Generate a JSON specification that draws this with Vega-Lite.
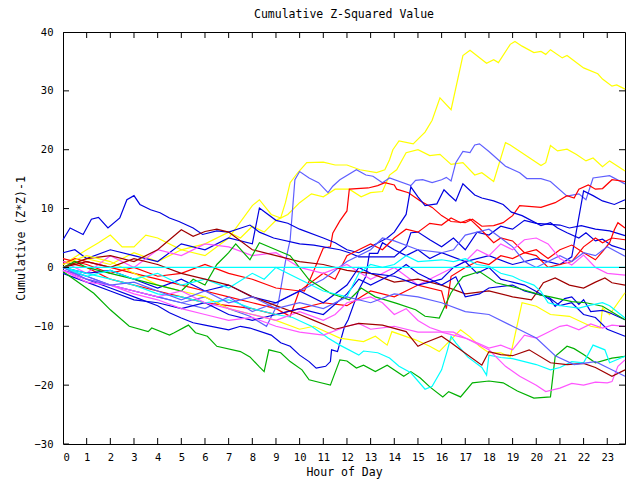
{
"$schema": "https://vega.github.io/schema/vega-lite/v6.json",
"width": 562, "height": 412,
"autosize": {"type": "none"},
"padding": {"left": 63, "top": 32, "right": 15, "bottom": 36},
"background": "white",
"title": {"text": "Cumulative Z-Squared Value", "font": "DejaVu Sans Mono", "fontSize": 11.5, "fontWeight": "normal", "color": "black", "offset": 7, "anchor": "middle"},
"config": {"view": {"stroke": "black", "strokeWidth": 1}, "axis": {"grid": false, "domain": false, "ticks": false, "tickSize": 0, "labelFont": "DejaVu Sans Mono", "labelFontSize": 10.5, "labelColor": "black", "titleFont": "DejaVu Sans Mono", "titleFontSize": 11.5, "titleFontWeight": "normal", "titleColor": "black"}},
"datasets": {
"zero": [{"h":0,"v":0},{"h":23.75,"v":0}],
"xt": [{"h":0},{"h":1},{"h":2},{"h":3},{"h":4},{"h":5},{"h":6},{"h":7},{"h":8},{"h":9},{"h":10},{"h":11},{"h":12},{"h":13},{"h":14},{"h":15},{"h":16},{"h":17},{"h":18},{"h":19},{"h":20},{"h":21},{"h":22},{"h":23}],
"yt": [{"v":-30},{"v":-20},{"v":-10},{"v":0},{"v":10},{"v":20},{"v":30},{"v":40}],
"lines": [
{"s":"A","h":0,"v":0},{"s":"A","h":1,"v":1.5},{"s":"A","h":2,"v":0.5},{"s":"A","h":3,"v":2.5},{"s":"A","h":4,"v":1},{"s":"A","h":5,"v":3},{"s":"A","h":6,"v":2},{"s":"A","h":7,"v":5},{"s":"A","h":8,"v":10.5},{"s":"A","h":8.3,"v":11.5},{"s":"A","h":8.8,"v":9},{"s":"A","h":9.2,"v":8.4},{"s":"A","h":9.4,"v":11},{"s":"A","h":9.6,"v":14.4},{"s":"A","h":9.9,"v":16},{"s":"A","h":10.3,"v":17.8},{"s":"A","h":11,"v":17.9},{"s":"A","h":11.5,"v":17.4},{"s":"A","h":12,"v":17.4},{"s":"A","h":12.55,"v":16.6},{"s":"A","h":13.25,"v":16.1},{"s":"A","h":13.6,"v":16.6},{"s":"A","h":13.8,"v":18.3},{"s":"A","h":13.94,"v":20},{"s":"A","h":14.2,"v":21.5},{"s":"A","h":14.8,"v":21},{"s":"A","h":15.3,"v":23},{"s":"A","h":15.6,"v":25},{"s":"A","h":15.93,"v":28.8},{"s":"A","h":16.4,"v":26.8},{"s":"A","h":16.9,"v":36},{"s":"A","h":17.2,"v":36.9},{"s":"A","h":17.9,"v":34.7},{"s":"A","h":18.2,"v":35.3},{"s":"A","h":18.4,"v":34.8},{"s":"A","h":18.9,"v":37.9},{"s":"A","h":19.1,"v":38.4},{"s":"A","h":19.4,"v":37.6},{"s":"A","h":19.9,"v":36.5},{"s":"A","h":20.2,"v":36.7},{"s":"A","h":20.4,"v":36.2},{"s":"A","h":20.6,"v":37},{"s":"A","h":21.1,"v":35.6},{"s":"A","h":21.3,"v":36},{"s":"A","h":22,"v":33.9},{"s":"A","h":22.6,"v":32.9},{"s":"A","h":22.8,"v":32},{"s":"A","h":23.2,"v":30.8},{"s":"A","h":23.4,"v":31},{"s":"A","h":23.75,"v":30.3},
{"s":"B","h":0,"v":0.5},{"s":"B","h":1,"v":3},{"s":"B","h":1.5,"v":4.2},{"s":"B","h":2,"v":5.5},{"s":"B","h":2.5,"v":3.5},{"s":"B","h":3,"v":3.5},{"s":"B","h":3.5,"v":5.5},{"s":"B","h":4,"v":5},{"s":"B","h":5,"v":3},{"s":"B","h":6,"v":4},{"s":"B","h":7,"v":6},{"s":"B","h":7.5,"v":5},{"s":"B","h":8,"v":7},{"s":"B","h":8.5,"v":6},{"s":"B","h":9,"v":8},{"s":"B","h":9.5,"v":9},{"s":"B","h":10,"v":11},{"s":"B","h":10.5,"v":12.5},{"s":"B","h":11,"v":12},{"s":"B","h":11.5,"v":13.3},{"s":"B","h":12.1,"v":13.3},{"s":"B","h":12.6,"v":12},{"s":"B","h":13,"v":12.7},{"s":"B","h":13.5,"v":12.9},{"s":"B","h":13.8,"v":15.7},{"s":"B","h":14.1,"v":16.6},{"s":"B","h":14.5,"v":19.5},{"s":"B","h":15,"v":20},{"s":"B","h":15.5,"v":19},{"s":"B","h":15.93,"v":19.2},{"s":"B","h":16.4,"v":17.5},{"s":"B","h":16.9,"v":17.8},{"s":"B","h":17.4,"v":15.7},{"s":"B","h":17.7,"v":16.1},{"s":"B","h":18.2,"v":14.6},{"s":"B","h":18.7,"v":21.2},{"s":"B","h":18.9,"v":20.8},{"s":"B","h":20.2,"v":17.3},{"s":"B","h":20.4,"v":17.8},{"s":"B","h":20.6,"v":20.7},{"s":"B","h":20.9,"v":19.8},{"s":"B","h":21.3,"v":20.1},{"s":"B","h":21.7,"v":19.2},{"s":"B","h":22.1,"v":18.1},{"s":"B","h":22.4,"v":18.6},{"s":"B","h":22.8,"v":17.1},{"s":"B","h":23.1,"v":18.1},{"s":"B","h":23.75,"v":16.4},
{"s":"C","h":0,"v":-0.5},{"s":"C","h":1,"v":-1.5},{"s":"C","h":2,"v":-3},{"s":"C","h":3,"v":-4},{"s":"C","h":4,"v":-5},{"s":"C","h":5,"v":-6},{"s":"C","h":6,"v":-5},{"s":"C","h":7,"v":-7},{"s":"C","h":7.9,"v":-8.3},{"s":"C","h":8.6,"v":-10},{"s":"C","h":9.1,"v":-6},{"s":"C","h":9.4,"v":1},{"s":"C","h":9.6,"v":4.7},{"s":"C","h":9.8,"v":14.9},{"s":"C","h":10,"v":16.3},{"s":"C","h":10.4,"v":15.2},{"s":"C","h":10.8,"v":14.4},{"s":"C","h":11.2,"v":12.7},{"s":"C","h":11.4,"v":13.8},{"s":"C","h":11.7,"v":14.9},{"s":"C","h":12.4,"v":16.6},{"s":"C","h":12.8,"v":15.7},{"s":"C","h":13.1,"v":15.5},{"s":"C","h":13.5,"v":14.4},{"s":"C","h":13.8,"v":15.2},{"s":"C","h":14.7,"v":13.9},{"s":"C","h":14.9,"v":14.8},{"s":"C","h":15.2,"v":14.9},{"s":"C","h":15.6,"v":14.4},{"s":"C","h":16,"v":14.9},{"s":"C","h":16.2,"v":15.3},{"s":"C","h":16.4,"v":14.7},{"s":"C","h":16.6,"v":17.8},{"s":"C","h":16.9,"v":19.7},{"s":"C","h":17.2,"v":19.5},{"s":"C","h":17.4,"v":20.8},{"s":"C","h":17.6,"v":21},{"s":"C","h":18,"v":19.7},{"s":"C","h":18.7,"v":17.2},{"s":"C","h":19.3,"v":16.1},{"s":"C","h":19.6,"v":15.1},{"s":"C","h":20.2,"v":15.1},{"s":"C","h":20.6,"v":14.6},{"s":"C","h":21.3,"v":12.1},{"s":"C","h":21.8,"v":12.5},{"s":"C","h":22.1,"v":11.5},{"s":"C","h":22.4,"v":15.2},{"s":"C","h":23.1,"v":15.6},{"s":"C","h":23.75,"v":14.2},
{"s":"D","h":0,"v":0.5},{"s":"D","h":0.5,"v":1.5},{"s":"D","h":1,"v":1},{"s":"D","h":2,"v":0},{"s":"D","h":3,"v":-1},{"s":"D","h":4,"v":-2},{"s":"D","h":5,"v":-3},{"s":"D","h":6,"v":-4},{"s":"D","h":7,"v":-5},{"s":"D","h":8,"v":-6},{"s":"D","h":9,"v":-7},{"s":"D","h":9.6,"v":-8.3},{"s":"D","h":10,"v":-3.8},{"s":"D","h":10.2,"v":-4},{"s":"D","h":10.5,"v":-1.5},{"s":"D","h":11,"v":3.3},{"s":"D","h":11.3,"v":3.5},{"s":"D","h":11.4,"v":5.8},{"s":"D","h":11.7,"v":7.9},{"s":"D","h":12,"v":9.6},{"s":"D","h":12.1,"v":13.3},{"s":"D","h":12.9,"v":13.5},{"s":"D","h":13.3,"v":13.9},{"s":"D","h":13.6,"v":14.4},{"s":"D","h":14,"v":14},{"s":"D","h":14.1,"v":13.3},{"s":"D","h":14.6,"v":12.7},{"s":"D","h":15.1,"v":11.3},{"s":"D","h":15.6,"v":10.2},{"s":"D","h":16,"v":8.8},{"s":"D","h":16.4,"v":7.8},{"s":"D","h":17,"v":7.6},{"s":"D","h":17.3,"v":8.2},{"s":"D","h":17.7,"v":7},{"s":"D","h":18.2,"v":7.1},{"s":"D","h":18.6,"v":7.6},{"s":"D","h":19,"v":8.8},{"s":"D","h":19.3,"v":10.5},{"s":"D","h":20.2,"v":10.2},{"s":"D","h":20.8,"v":11},{"s":"D","h":21.3,"v":12.2},{"s":"D","h":21.6,"v":11.8},{"s":"D","h":21.8,"v":13.3},{"s":"D","h":22.2,"v":14},{"s":"D","h":22.5,"v":13.3},{"s":"D","h":22.8,"v":13.4},{"s":"D","h":23.2,"v":14.9},{"s":"D","h":23.75,"v":14.6},
{"s":"E","h":0,"v":2.5},{"s":"E","h":0.5,"v":3},{"s":"E","h":1,"v":1.5},{"s":"E","h":2,"v":3},{"s":"E","h":3,"v":2},{"s":"E","h":4,"v":1},{"s":"E","h":5,"v":4},{"s":"E","h":6,"v":3},{"s":"E","h":7,"v":5},{"s":"E","h":8,"v":4},{"s":"E","h":8.3,"v":10.1},{"s":"E","h":9,"v":8},{"s":"E","h":9.5,"v":7.5},{"s":"E","h":10,"v":6.5},{"s":"E","h":11,"v":5},{"s":"E","h":11.5,"v":4.2},{"s":"E","h":12,"v":3},{"s":"E","h":12.5,"v":2.5},{"s":"E","h":13,"v":3.5},{"s":"E","h":13.7,"v":5},{"s":"E","h":14,"v":6},{"s":"E","h":14.5,"v":9},{"s":"E","h":14.7,"v":13.7},{"s":"E","h":15,"v":12},{"s":"E","h":15.3,"v":10.5},{"s":"E","h":15.8,"v":10.8},{"s":"E","h":16.1,"v":13.2},{"s":"E","h":16.3,"v":12.4},{"s":"E","h":16.6,"v":11.3},{"s":"E","h":16.9,"v":14.2},{"s":"E","h":17.4,"v":12.3},{"s":"E","h":17.7,"v":11.8},{"s":"E","h":18.2,"v":11.3},{"s":"E","h":18.6,"v":10.7},{"s":"E","h":18.95,"v":9.4},{"s":"E","h":19.4,"v":8.8},{"s":"E","h":20.2,"v":7.1},{"s":"E","h":20.6,"v":7.6},{"s":"E","h":20.9,"v":6.7},{"s":"E","h":21.3,"v":5.9},{"s":"E","h":21.8,"v":5},{"s":"E","h":22.1,"v":5.9},{"s":"E","h":22.5,"v":4.5},{"s":"E","h":22.8,"v":4.8},{"s":"E","h":23.2,"v":3.7},{"s":"E","h":23.75,"v":3},
{"s":"F","h":0,"v":-0.5},{"s":"F","h":1,"v":-2},{"s":"F","h":2,"v":-3.5},{"s":"F","h":3,"v":-5},{"s":"F","h":4,"v":-6.5},{"s":"F","h":4.5,"v":-7.7},{"s":"F","h":5,"v":-8.6},{"s":"F","h":5.5,"v":-9.4},{"s":"F","h":6,"v":-9.8},{"s":"F","h":7,"v":-10.6},{"s":"F","h":7.5,"v":-10},{"s":"F","h":7.9,"v":-10.3},{"s":"F","h":8.8,"v":-11.5},{"s":"F","h":9.2,"v":-12.8},{"s":"F","h":9.6,"v":-13.4},{"s":"F","h":10,"v":-14.9},{"s":"F","h":10.4,"v":-16},{"s":"F","h":10.7,"v":-17.1},{"s":"F","h":11.1,"v":-16.8},{"s":"F","h":11.3,"v":-16},{"s":"F","h":11.35,"v":-14},{"s":"F","h":11.6,"v":-14.3},{"s":"F","h":11.9,"v":-10},{"s":"F","h":12.05,"v":-8.9},{"s":"F","h":12.4,"v":-5},{"s":"F","h":12.5,"v":-3.8},{"s":"F","h":12.8,"v":-1.5},{"s":"F","h":12.95,"v":2.4},{"s":"F","h":13.3,"v":2.4},{"s":"F","h":13.5,"v":4.2},{"s":"F","h":14,"v":3},{"s":"F","h":14.5,"v":2},{"s":"F","h":15,"v":3},{"s":"F","h":15.5,"v":1.5},{"s":"F","h":16,"v":2.5},{"s":"F","h":17,"v":1},{"s":"F","h":18,"v":2},{"s":"F","h":19,"v":0.5},{"s":"F","h":20,"v":1.5},{"s":"F","h":21,"v":0.5},{"s":"F","h":21.5,"v":1.8},{"s":"F","h":22,"v":13},{"s":"F","h":22.4,"v":12.2},{"s":"F","h":22.8,"v":11.3},{"s":"F","h":23.3,"v":10.7},{"s":"F","h":23.75,"v":11.5},
{"s":"G","h":0,"v":4.7},{"s":"G","h":0.3,"v":6.7},{"s":"G","h":0.85,"v":5.6},{"s":"G","h":1.2,"v":8.2},{"s":"G","h":1.5,"v":8.5},{"s":"G","h":1.9,"v":6.7},{"s":"G","h":2.4,"v":8.4},{"s":"G","h":2.7,"v":11.5},{"s":"G","h":3,"v":12.2},{"s":"G","h":3.25,"v":10.7},{"s":"G","h":3.7,"v":9.8},{"s":"G","h":4.1,"v":9.3},{"s":"G","h":4.5,"v":8.4},{"s":"G","h":4.9,"v":7.8},{"s":"G","h":5.5,"v":6.7},{"s":"G","h":5.9,"v":5.6},{"s":"G","h":6.5,"v":6.2},{"s":"G","h":7,"v":6},{"s":"G","h":7.9,"v":7.2},{"s":"G","h":8.3,"v":6},{"s":"G","h":8.9,"v":5},{"s":"G","h":10,"v":4},{"s":"G","h":10.6,"v":3.8},{"s":"G","h":11.7,"v":3},{"s":"G","h":12.1,"v":2.5},{"s":"G","h":12.5,"v":1.8},{"s":"G","h":13.2,"v":1.8},{"s":"G","h":14,"v":1.8},{"s":"G","h":14.5,"v":3.5},{"s":"G","h":14.7,"v":5.9},{"s":"G","h":15,"v":6},{"s":"G","h":15.5,"v":4.7},{"s":"G","h":16,"v":3.5},{"s":"G","h":16.5,"v":5},{"s":"G","h":17,"v":3},{"s":"G","h":17.5,"v":6},{"s":"G","h":18,"v":5.5},{"s":"G","h":18.5,"v":7},{"s":"G","h":19,"v":6.5},{"s":"G","h":19.5,"v":8},{"s":"G","h":20,"v":7.5},{"s":"G","h":21,"v":7.2},{"s":"G","h":21.4,"v":6.7},{"s":"G","h":21.9,"v":7.1},{"s":"G","h":22.5,"v":6.5},{"s":"G","h":23.1,"v":6.2},{"s":"G","h":23.75,"v":5.4},
{"s":"H","h":0,"v":1.5},{"s":"H","h":1,"v":0.5},{"s":"H","h":2,"v":-1},{"s":"H","h":3,"v":0},{"s":"H","h":4,"v":-1.5},{"s":"H","h":5,"v":-1},{"s":"H","h":6,"v":0.5},{"s":"H","h":7,"v":-1},{"s":"H","h":8,"v":-2},{"s":"H","h":9,"v":-3.5},{"s":"H","h":10,"v":-4},{"s":"H","h":11,"v":-1},{"s":"H","h":11.5,"v":-2},{"s":"H","h":12,"v":2},{"s":"H","h":12.5,"v":3},{"s":"H","h":13,"v":4},{"s":"H","h":13.5,"v":3},{"s":"H","h":14,"v":5},{"s":"H","h":14.5,"v":6.5},{"s":"H","h":15,"v":6},{"s":"H","h":15.5,"v":7.5},{"s":"H","h":16,"v":7.2},{"s":"H","h":16.4,"v":8.4},{"s":"H","h":16.8,"v":7.6},{"s":"H","h":17.2,"v":8.2},{"s":"H","h":17.6,"v":6.7},{"s":"H","h":18.2,"v":4.2},{"s":"H","h":18.5,"v":5},{"s":"H","h":19,"v":4.5},{"s":"H","h":19.5,"v":2.5},{"s":"H","h":20,"v":3},{"s":"H","h":20.5,"v":1.5},{"s":"H","h":21,"v":3},{"s":"H","h":21.5,"v":3.8},{"s":"H","h":22,"v":2.5},{"s":"H","h":22.5,"v":1.3},{"s":"H","h":22.8,"v":2.7},{"s":"H","h":23.1,"v":4.2},{"s":"H","h":23.3,"v":6.4},{"s":"H","h":23.45,"v":7.6},{"s":"H","h":23.75,"v":6.7},
{"s":"I","h":0,"v":1},{"s":"I","h":1,"v":0},{"s":"I","h":2,"v":-2},{"s":"I","h":3,"v":-3},{"s":"I","h":4,"v":-4},{"s":"I","h":5,"v":-5},{"s":"I","h":6,"v":-6},{"s":"I","h":7,"v":-6.5},{"s":"I","h":8,"v":-7},{"s":"I","h":9,"v":-8},{"s":"I","h":10,"v":-7},{"s":"I","h":11,"v":-6},{"s":"I","h":12,"v":-6.5},{"s":"I","h":13,"v":-4},{"s":"I","h":14,"v":-5},{"s":"I","h":15,"v":-3},{"s":"I","h":16,"v":-4},{"s":"I","h":16.2,"v":-7},{"s":"I","h":16.4,"v":-1.5},{"s":"I","h":17,"v":0},{"s":"I","h":17.5,"v":1},{"s":"I","h":18,"v":0.5},{"s":"I","h":18.5,"v":2},{"s":"I","h":19,"v":1.5},{"s":"I","h":19.5,"v":2.5},{"s":"I","h":20,"v":2},{"s":"I","h":20.5,"v":0},{"s":"I","h":21,"v":0.5},{"s":"I","h":21.5,"v":1},{"s":"I","h":22,"v":3.5},{"s":"I","h":22.5,"v":5},{"s":"I","h":22.8,"v":4.2},{"s":"I","h":23.2,"v":5},{"s":"I","h":23.75,"v":4.7},
{"s":"J","h":0,"v":0},{"s":"J","h":1,"v":-1.5},{"s":"J","h":2,"v":-3},{"s":"J","h":3,"v":-4},{"s":"J","h":4,"v":-5},{"s":"J","h":5,"v":-6},{"s":"J","h":6,"v":-7},{"s":"J","h":7,"v":-5},{"s":"J","h":8,"v":-7.5},{"s":"J","h":9,"v":-6},{"s":"J","h":10,"v":-4},{"s":"J","h":11,"v":-2},{"s":"J","h":12,"v":1},{"s":"J","h":13,"v":3},{"s":"J","h":13.5,"v":5},{"s":"J","h":14,"v":4.5},{"s":"J","h":15,"v":3},{"s":"J","h":16,"v":2.5},{"s":"J","h":16.5,"v":3},{"s":"J","h":17,"v":5.5},{"s":"J","h":17.5,"v":6},{"s":"J","h":18,"v":6.5},{"s":"J","h":18.5,"v":5},{"s":"J","h":19,"v":3.5},{"s":"J","h":19.5,"v":1},{"s":"J","h":20,"v":0},{"s":"J","h":20.5,"v":1},{"s":"J","h":21,"v":2},{"s":"J","h":21.5,"v":1},{"s":"J","h":22,"v":2.5},{"s":"J","h":22.5,"v":2},{"s":"J","h":23,"v":3.5},{"s":"J","h":23.75,"v":1.9},
{"s":"K","h":0,"v":1},{"s":"K","h":1,"v":-1},{"s":"K","h":2,"v":2},{"s":"K","h":3,"v":0},{"s":"K","h":4,"v":3},{"s":"K","h":5,"v":2},{"s":"K","h":6,"v":4},{"s":"K","h":7,"v":3.5},{"s":"K","h":8,"v":2},{"s":"K","h":9,"v":2.5},{"s":"K","h":10,"v":0},{"s":"K","h":11,"v":-1},{"s":"K","h":12,"v":0.5},{"s":"K","h":13,"v":-2},{"s":"K","h":14,"v":0},{"s":"K","h":15,"v":-3},{"s":"K","h":16,"v":-1},{"s":"K","h":17,"v":1},{"s":"K","h":17.5,"v":3},{"s":"K","h":18,"v":2},{"s":"K","h":18.5,"v":4},{"s":"K","h":19,"v":3},{"s":"K","h":19.5,"v":4.7},{"s":"K","h":20,"v":5},{"s":"K","h":20.5,"v":4},{"s":"K","h":21,"v":1.5},{"s":"K","h":21.5,"v":0.4},{"s":"K","h":22,"v":2.1},{"s":"K","h":22.5,"v":0},{"s":"K","h":23,"v":-1},{"s":"K","h":23.75,"v":-1.3},
{"s":"L","h":0,"v":0},{"s":"L","h":1,"v":1.5},{"s":"L","h":2,"v":2},{"s":"L","h":3,"v":1},{"s":"L","h":4,"v":3},{"s":"L","h":4.5,"v":4.7},{"s":"L","h":5,"v":6.4},{"s":"L","h":5.5,"v":5.3},{"s":"L","h":6,"v":6.1},{"s":"L","h":6.5,"v":6.5},{"s":"L","h":7,"v":6},{"s":"L","h":8,"v":3},{"s":"L","h":9,"v":2},{"s":"L","h":10,"v":1},{"s":"L","h":11,"v":0.5},{"s":"L","h":12,"v":-0.5},{"s":"L","h":13,"v":-1},{"s":"L","h":14,"v":-2.5},{"s":"L","h":15,"v":-2},{"s":"L","h":16,"v":-3},{"s":"L","h":17,"v":-4.5},{"s":"L","h":18,"v":-4},{"s":"L","h":19,"v":-5},{"s":"L","h":19.8,"v":-5.5},{"s":"L","h":20.1,"v":-3.8},{"s":"L","h":20.3,"v":-2.6},{"s":"L","h":20.8,"v":-1.8},{"s":"L","h":21.4,"v":-3},{"s":"L","h":22,"v":-3.5},{"s":"L","h":22.5,"v":-2.5},{"s":"L","h":22.9,"v":-1.8},{"s":"L","h":23.2,"v":-2.6},{"s":"L","h":23.75,"v":-3},
{"s":"M","h":0,"v":0.5},{"s":"M","h":1,"v":2},{"s":"M","h":2,"v":1},{"s":"M","h":3,"v":-1},{"s":"M","h":4,"v":-3},{"s":"M","h":5,"v":-4},{"s":"M","h":6,"v":-5},{"s":"M","h":7,"v":-7},{"s":"M","h":8,"v":-8},{"s":"M","h":9,"v":-9},{"s":"M","h":10,"v":-10.5},{"s":"M","h":10.6,"v":-10},{"s":"M","h":11.7,"v":-12},{"s":"M","h":12.7,"v":-12.6},{"s":"M","h":13.2,"v":-11.7},{"s":"M","h":13.7,"v":-13.2},{"s":"M","h":13.9,"v":-10.9},{"s":"M","h":14.9,"v":-12.3},{"s":"M","h":15.5,"v":-13.4},{"s":"M","h":15.9,"v":-14.3},{"s":"M","h":16.8,"v":-10.6},{"s":"M","h":17.2,"v":-11.8},{"s":"M","h":17.6,"v":-13.4},{"s":"M","h":18,"v":-14.5},{"s":"M","h":18.5,"v":-14.5},{"s":"M","h":18.9,"v":-15.2},{"s":"M","h":19.4,"v":-6},{"s":"M","h":20,"v":-6.6},{"s":"M","h":20.6,"v":-8},{"s":"M","h":21.4,"v":-8.3},{"s":"M","h":22.3,"v":-10},{"s":"M","h":22.7,"v":-10.3},{"s":"M","h":22.8,"v":-6.9},{"s":"M","h":23.1,"v":-8},{"s":"M","h":23.75,"v":-4.3},
{"s":"N","h":0,"v":0},{"s":"N","h":1,"v":-1},{"s":"N","h":2,"v":-0.5},{"s":"N","h":3,"v":-2},{"s":"N","h":4,"v":-3.5},{"s":"N","h":5,"v":-2},{"s":"N","h":6,"v":-4},{"s":"N","h":7,"v":-3},{"s":"N","h":8,"v":-5},{"s":"N","h":9,"v":-6},{"s":"N","h":10,"v":-4},{"s":"N","h":11,"v":-6},{"s":"N","h":12,"v":-3},{"s":"N","h":12.5,"v":0},{"s":"N","h":13,"v":-1},{"s":"N","h":14,"v":-1.5},{"s":"N","h":15,"v":-3},{"s":"N","h":16,"v":-2},{"s":"N","h":16.5,"v":0},{"s":"N","h":17,"v":1},{"s":"N","h":17.5,"v":-1},{"s":"N","h":18,"v":0},{"s":"N","h":18.5,"v":-2},{"s":"N","h":19,"v":-2.5},{"s":"N","h":19.5,"v":-3},{"s":"N","h":20,"v":-4.1},{"s":"N","h":20.6,"v":-5.5},{"s":"N","h":20.8,"v":-6.6},{"s":"N","h":21.2,"v":-5.3},{"s":"N","h":21.5,"v":-5},{"s":"N","h":21.8,"v":-6.3},{"s":"N","h":22,"v":-5.5},{"s":"N","h":22.3,"v":-7.5},{"s":"N","h":22.8,"v":-7.3},{"s":"N","h":23.1,"v":-7.7},{"s":"N","h":23.75,"v":-8.9},
{"s":"O","h":0,"v":-1},{"s":"O","h":1,"v":-2.5},{"s":"O","h":2,"v":-4},{"s":"O","h":3,"v":-5.5},{"s":"O","h":4,"v":-6},{"s":"O","h":5,"v":-7},{"s":"O","h":6,"v":-6},{"s":"O","h":7,"v":-8},{"s":"O","h":8,"v":-9},{"s":"O","h":9,"v":-8},{"s":"O","h":10,"v":-7},{"s":"O","h":11,"v":-8},{"s":"O","h":12,"v":-4.5},{"s":"O","h":12.5,"v":-2},{"s":"O","h":13,"v":-3},{"s":"O","h":14,"v":-1},{"s":"O","h":14.5,"v":0.5},{"s":"O","h":15,"v":-1},{"s":"O","h":16,"v":-3},{"s":"O","h":16.6,"v":-1.6},{"s":"O","h":17,"v":-5},{"s":"O","h":17.6,"v":-4.5},{"s":"O","h":18,"v":-3.5},{"s":"O","h":19,"v":-3},{"s":"O","h":19.5,"v":-4},{"s":"O","h":20,"v":-4.5},{"s":"O","h":20.5,"v":-5},{"s":"O","h":21,"v":-6.5},{"s":"O","h":21.5,"v":-6},{"s":"O","h":22,"v":-8},{"s":"O","h":22.5,"v":-8.5},{"s":"O","h":23,"v":-10.5},{"s":"O","h":23.75,"v":-11.7},
{"s":"P","h":0,"v":0},{"s":"P","h":0.5,"v":1},{"s":"P","h":1,"v":0},{"s":"P","h":2,"v":-1},{"s":"P","h":3,"v":-2},{"s":"P","h":4,"v":-3},{"s":"P","h":5,"v":-4},{"s":"P","h":5.5,"v":-2},{"s":"P","h":6,"v":-3},{"s":"P","h":6.5,"v":0.5},{"s":"P","h":7,"v":2.5},{"s":"P","h":7.3,"v":4},{"s":"P","h":7.9,"v":1.3},{"s":"P","h":8.3,"v":4.2},{"s":"P","h":9.3,"v":2.5},{"s":"P","h":9.6,"v":2},{"s":"P","h":10.4,"v":-2.1},{"s":"P","h":11.3,"v":-4.4},{"s":"P","h":12.1,"v":-5.5},{"s":"P","h":12.6,"v":-3.5},{"s":"P","h":13.2,"v":-5},{"s":"P","h":14.1,"v":-6.1},{"s":"P","h":14.9,"v":-7.2},{"s":"P","h":15.3,"v":-8.3},{"s":"P","h":15.9,"v":-8.6},{"s":"P","h":16.4,"v":-4.3},{"s":"P","h":16.7,"v":-2.6},{"s":"P","h":16.9,"v":-1.6},{"s":"P","h":17.6,"v":-0.7},{"s":"P","h":18.3,"v":-2.6},{"s":"P","h":19.2,"v":-3.5},{"s":"P","h":20.2,"v":-4.7},{"s":"P","h":20.6,"v":-5},{"s":"P","h":21.5,"v":-5.8},{"s":"P","h":22.1,"v":-6},{"s":"P","h":22.8,"v":-6.6},{"s":"P","h":23.75,"v":-8.9},
{"s":"Q","h":0,"v":-0.7},{"s":"Q","h":1.3,"v":-4.4},{"s":"Q","h":2,"v":-7.2},{"s":"Q","h":2.8,"v":-10},{"s":"Q","h":3.6,"v":-10.9},{"s":"Q","h":3.75,"v":-10.3},{"s":"Q","h":4.5,"v":-11.5},{"s":"Q","h":4.7,"v":-11.1},{"s":"Q","h":5.3,"v":-9.8},{"s":"Q","h":5.6,"v":-11.1},{"s":"Q","h":6.1,"v":-11.7},{"s":"Q","h":6.5,"v":-13.4},{"s":"Q","h":7.5,"v":-14.3},{"s":"Q","h":7.9,"v":-15.2},{"s":"Q","h":8.3,"v":-16.9},{"s":"Q","h":8.5,"v":-17.7},{"s":"Q","h":8.7,"v":-14},{"s":"Q","h":9.2,"v":-14.5},{"s":"Q","h":9.6,"v":-16},{"s":"Q","h":10.1,"v":-17.4},{"s":"Q","h":10.4,"v":-19.1},{"s":"Q","h":10.9,"v":-19.6},{"s":"Q","h":11.3,"v":-20},{"s":"Q","h":11.7,"v":-15.7},{"s":"Q","h":12,"v":-15.9},{"s":"Q","h":12.4,"v":-17.1},{"s":"Q","h":12.7,"v":-16.6},{"s":"Q","h":13.2,"v":-17.7},{"s":"Q","h":13.7,"v":-16.6},{"s":"Q","h":14.4,"v":-18.5},{"s":"Q","h":14.7,"v":-17.7},{"s":"Q","h":15.1,"v":-18.8},{"s":"Q","h":15.5,"v":-20.3},{"s":"Q","h":16.05,"v":-22},{"s":"Q","h":16.3,"v":-21.1},{"s":"Q","h":16.8,"v":-22},{"s":"Q","h":17.3,"v":-19.6},{"s":"Q","h":18,"v":-19.3},{"s":"Q","h":18.6,"v":-19.6},{"s":"Q","h":19.2,"v":-21},{"s":"Q","h":19.9,"v":-22.2},{"s":"Q","h":20.6,"v":-22},{"s":"Q","h":20.8,"v":-15.1},{"s":"Q","h":21.3,"v":-13.4},{"s":"Q","h":21.6,"v":-13.8},{"s":"Q","h":22,"v":-14.8},{"s":"Q","h":22.5,"v":-16.2},{"s":"Q","h":23.2,"v":-15.4},{"s":"Q","h":23.75,"v":-15.1},
{"s":"R","h":0,"v":0},{"s":"R","h":1,"v":-1.5},{"s":"R","h":2,"v":-0.5},{"s":"R","h":3,"v":-2},{"s":"R","h":4,"v":-1},{"s":"R","h":5,"v":-3},{"s":"R","h":6,"v":-2},{"s":"R","h":7,"v":-3.5},{"s":"R","h":8,"v":-1},{"s":"R","h":8.5,"v":-2},{"s":"R","h":9,"v":0},{"s":"R","h":10,"v":-2},{"s":"R","h":11,"v":-4},{"s":"R","h":12,"v":-5},{"s":"R","h":12.5,"v":-1},{"s":"R","h":13,"v":0.5},{"s":"R","h":13.5,"v":0},{"s":"R","h":14,"v":0.5},{"s":"R","h":14.5,"v":2},{"s":"R","h":15,"v":1},{"s":"R","h":16,"v":1.3},{"s":"R","h":16.5,"v":1},{"s":"R","h":17,"v":1.5},{"s":"R","h":17.5,"v":0.5},{"s":"R","h":18,"v":0.2},{"s":"R","h":18.5,"v":-1},{"s":"R","h":19,"v":-1.5},{"s":"R","h":19.3,"v":-2.1},{"s":"R","h":19.9,"v":-3},{"s":"R","h":20.2,"v":-4.1},{"s":"R","h":20.5,"v":-6},{"s":"R","h":20.9,"v":-6.4},{"s":"R","h":21.2,"v":-6.6},{"s":"R","h":21.8,"v":-6.9},{"s":"R","h":22.2,"v":-6.5},{"s":"R","h":22.8,"v":-6},{"s":"R","h":23.1,"v":-6.5},{"s":"R","h":23.75,"v":-8.6},
{"s":"S","h":0,"v":0},{"s":"S","h":1,"v":-1},{"s":"S","h":2,"v":-2},{"s":"S","h":3,"v":-3},{"s":"S","h":4,"v":-4.5},{"s":"S","h":5,"v":-5},{"s":"S","h":6,"v":-6},{"s":"S","h":7,"v":-5.5},{"s":"S","h":8,"v":-7},{"s":"S","h":9,"v":-8},{"s":"S","h":9.7,"v":-8.5},{"s":"S","h":10.5,"v":-10},{"s":"S","h":11.2,"v":-12},{"s":"S","h":11.7,"v":-13.2},{"s":"S","h":12.5,"v":-14.9},{"s":"S","h":12.7,"v":-14.2},{"s":"S","h":13.3,"v":-14.5},{"s":"S","h":13.8,"v":-15.4},{"s":"S","h":14.2,"v":-16.8},{"s":"S","h":14.7,"v":-17.9},{"s":"S","h":15.3,"v":-20.7},{"s":"S","h":15.6,"v":-20.2},{"s":"S","h":16,"v":-17.4},{"s":"S","h":16.25,"v":-14},{"s":"S","h":16.4,"v":-11.7},{"s":"S","h":16.6,"v":-12.8},{"s":"S","h":17.1,"v":-15.2},{"s":"S","h":17.7,"v":-17},{"s":"S","h":17.9,"v":-18.3},{"s":"S","h":18,"v":-14.9},{"s":"S","h":18.5,"v":-15.3},{"s":"S","h":19,"v":-15.5},{"s":"S","h":19.5,"v":-16},{"s":"S","h":20,"v":-16.5},{"s":"S","h":20.6,"v":-17.4},{"s":"S","h":21,"v":-17},{"s":"S","h":21.5,"v":-16},{"s":"S","h":22,"v":-16.2},{"s":"S","h":22.4,"v":-13.2},{"s":"S","h":22.9,"v":-14},{"s":"S","h":23.1,"v":-16.2},{"s":"S","h":23.75,"v":-15.1},
{"s":"T","h":0,"v":-0.5},{"s":"T","h":1,"v":-2},{"s":"T","h":2,"v":-3},{"s":"T","h":3,"v":-4},{"s":"T","h":4,"v":-5},{"s":"T","h":5,"v":-4},{"s":"T","h":6,"v":-6},{"s":"T","h":7,"v":-7},{"s":"T","h":8,"v":-8},{"s":"T","h":9,"v":-9},{"s":"T","h":10,"v":-7.5},{"s":"T","h":11,"v":-9},{"s":"T","h":11.5,"v":-8},{"s":"T","h":12,"v":-6},{"s":"T","h":13,"v":-5},{"s":"T","h":13.5,"v":-6},{"s":"T","h":14,"v":-8},{"s":"T","h":14.5,"v":-7},{"s":"T","h":15,"v":-9},{"s":"T","h":15.5,"v":-10.2},{"s":"T","h":16,"v":-10.9},{"s":"T","h":16.5,"v":-11},{"s":"T","h":17,"v":-12},{"s":"T","h":17.5,"v":-12.8},{"s":"T","h":18,"v":-13.7},{"s":"T","h":18.5,"v":-13.2},{"s":"T","h":19,"v":-14},{"s":"T","h":19.5,"v":-11.5},{"s":"T","h":20,"v":-12},{"s":"T","h":20.5,"v":-11},{"s":"T","h":21,"v":-10},{"s":"T","h":21.3,"v":-9.8},{"s":"T","h":21.8,"v":-10.6},{"s":"T","h":22.3,"v":-9.6},{"s":"T","h":22.8,"v":-10.3},{"s":"T","h":23.2,"v":-9.8},{"s":"T","h":23.75,"v":-10},
{"s":"U","h":0,"v":-0.5},{"s":"U","h":1,"v":-2.5},{"s":"U","h":2,"v":-3},{"s":"U","h":3,"v":-4.5},{"s":"U","h":4,"v":-5.5},{"s":"U","h":5,"v":-7},{"s":"U","h":6,"v":-8},{"s":"U","h":7,"v":-9},{"s":"U","h":8,"v":-8.5},{"s":"U","h":9,"v":-10},{"s":"U","h":10,"v":-11},{"s":"U","h":11,"v":-11.5},{"s":"U","h":12,"v":-10},{"s":"U","h":12.5,"v":-9.5},{"s":"U","h":13,"v":-10.5},{"s":"U","h":14,"v":-10},{"s":"U","h":15,"v":-11},{"s":"U","h":16,"v":-11},{"s":"U","h":17,"v":-12},{"s":"U","h":18,"v":-14},{"s":"U","h":18.7,"v":-16.8},{"s":"U","h":19.3,"v":-18.5},{"s":"U","h":20,"v":-20},{"s":"U","h":20.4,"v":-21.1},{"s":"U","h":21,"v":-20.5},{"s":"U","h":21.5,"v":-19.7},{"s":"U","h":22,"v":-20},{"s":"U","h":22.5,"v":-19.5},{"s":"U","h":23,"v":-19.6},{"s":"U","h":23.2,"v":-19.4},{"s":"U","h":23.45,"v":-16.8},{"s":"U","h":23.75,"v":-15.7},
{"s":"V","h":0,"v":0},{"s":"V","h":1,"v":1},{"s":"V","h":2,"v":0},{"s":"V","h":3,"v":1.5},{"s":"V","h":4,"v":0.5},{"s":"V","h":5,"v":-1},{"s":"V","h":6,"v":-2},{"s":"V","h":7,"v":-3},{"s":"V","h":8,"v":-5},{"s":"V","h":9,"v":-6.5},{"s":"V","h":10,"v":-8},{"s":"V","h":10.6,"v":-9},{"s":"V","h":11.5,"v":-10.5},{"s":"V","h":12.5,"v":-9.5},{"s":"V","h":13.5,"v":-9.8},{"s":"V","h":14.5,"v":-10.9},{"s":"V","h":15,"v":-13.4},{"s":"V","h":15.3,"v":-12.8},{"s":"V","h":16,"v":-11.7},{"s":"V","h":16.4,"v":-12.8},{"s":"V","h":16.9,"v":-14.3},{"s":"V","h":17.7,"v":-16.6},{"s":"V","h":18,"v":-14.3},{"s":"V","h":18.5,"v":-14.8},{"s":"V","h":19,"v":-15},{"s":"V","h":19.7,"v":-14},{"s":"V","h":20.6,"v":-16.2},{"s":"V","h":21.3,"v":-16.5},{"s":"V","h":22,"v":-16.3},{"s":"V","h":22.5,"v":-17},{"s":"V","h":23.2,"v":-18.5},{"s":"V","h":23.75,"v":-17.4},
{"s":"W","h":0,"v":0},{"s":"W","h":1,"v":-2},{"s":"W","h":2,"v":-3},{"s":"W","h":3,"v":-2.5},{"s":"W","h":4,"v":-4},{"s":"W","h":5,"v":-5.5},{"s":"W","h":6,"v":-4},{"s":"W","h":7,"v":-6},{"s":"W","h":8,"v":-5},{"s":"W","h":9,"v":-7},{"s":"W","h":10,"v":-6},{"s":"W","h":11,"v":-7},{"s":"W","h":12,"v":-5},{"s":"W","h":13,"v":-6},{"s":"W","h":14,"v":-4.5},{"s":"W","h":15,"v":-5},{"s":"W","h":16,"v":-6},{"s":"W","h":17,"v":-7.5},{"s":"W","h":18,"v":-8},{"s":"W","h":19,"v":-10},{"s":"W","h":20,"v":-12},{"s":"W","h":20.8,"v":-15},{"s":"W","h":21.6,"v":-16.5},{"s":"W","h":22.5,"v":-16},{"s":"W","h":23,"v":-17},{"s":"W","h":23.75,"v":-18.5}
]},
"layer": [
{"data": {"name": "lines"},
 "mark": {"type": "line", "strokeWidth": 1.2, "interpolate": "linear"},
 "encoding": {
  "x": {"field": "h", "type": "quantitative", "scale": {"domain": [0, 23.75], "nice": false, "zero": false}, "axis": {"values": [0,1,2,3,4,5,6,7,8,9,10,11,12,13,14,15,16,17,18,19,20,21,22,23], "title": "Hour of Day", "labelPadding": 8, "titlePadding": 4}},
  "y": {"field": "v", "type": "quantitative", "scale": {"domain": [-30, 40], "nice": false, "zero": false}, "axis": {"values": [-30,-20,-10,0,10,20,30,40], "title": "Cumulative (Z*Z)-1", "labelPadding": 10, "titlePadding": 8}},
  "color": {"field": "s", "type": "nominal", "legend": null, "scale": {"domain": ["A","B","C","D","E","F","G","H","I","J","K","L","M","N","O","P","Q","R","S","T","U","V","W"], "range": ["#ffff00","#ffff00","#5f5fff","#ff0000","#0000e0","#0000e0","#0000e0","#ff0000","#ff0000","#5f5fff","#ff55ff","#a00000","#ffff00","#0000e0","#0000e0","#00b000","#00b000","#00ffff","#00ffff","#ff55ff","#ff55ff","#a00000","#5f5fff"]}}
 }},
{"data": {"name": "zero"},
 "mark": {"type": "line", "color": "#00ffff", "strokeWidth": 1.2},
 "encoding": {
  "x": {"field": "h", "type": "quantitative", "axis": null},
  "y": {"field": "v", "type": "quantitative", "axis": null}
 }},
{"data": {"name": "xt"},
 "mark": {"type": "tick", "orient": "vertical", "size": 12, "thickness": 1, "color": "black", "opacity": 1, "clip": true},
 "encoding": {"x": {"field": "h", "type": "quantitative", "axis": null}, "y": {"datum": -30, "type": "quantitative", "axis": null}}},
{"data": {"name": "xt"},
 "mark": {"type": "tick", "orient": "vertical", "size": 12, "thickness": 1, "color": "black", "opacity": 1, "clip": true},
 "encoding": {"x": {"field": "h", "type": "quantitative", "axis": null}, "y": {"datum": 40, "type": "quantitative", "axis": null}}},
{"data": {"name": "yt"},
 "mark": {"type": "tick", "orient": "horizontal", "size": 12, "thickness": 1, "color": "black", "opacity": 1, "clip": true},
 "encoding": {"y": {"field": "v", "type": "quantitative", "axis": null}, "x": {"datum": 0, "type": "quantitative", "axis": null}}},
{"data": {"name": "yt"},
 "mark": {"type": "tick", "orient": "horizontal", "size": 12, "thickness": 1, "color": "black", "opacity": 1, "clip": true},
 "encoding": {"y": {"field": "v", "type": "quantitative", "axis": null}, "x": {"datum": 23.75, "type": "quantitative", "axis": null}}}
],
"resolve": {"axis": {"x": "independent", "y": "independent"}}
}
